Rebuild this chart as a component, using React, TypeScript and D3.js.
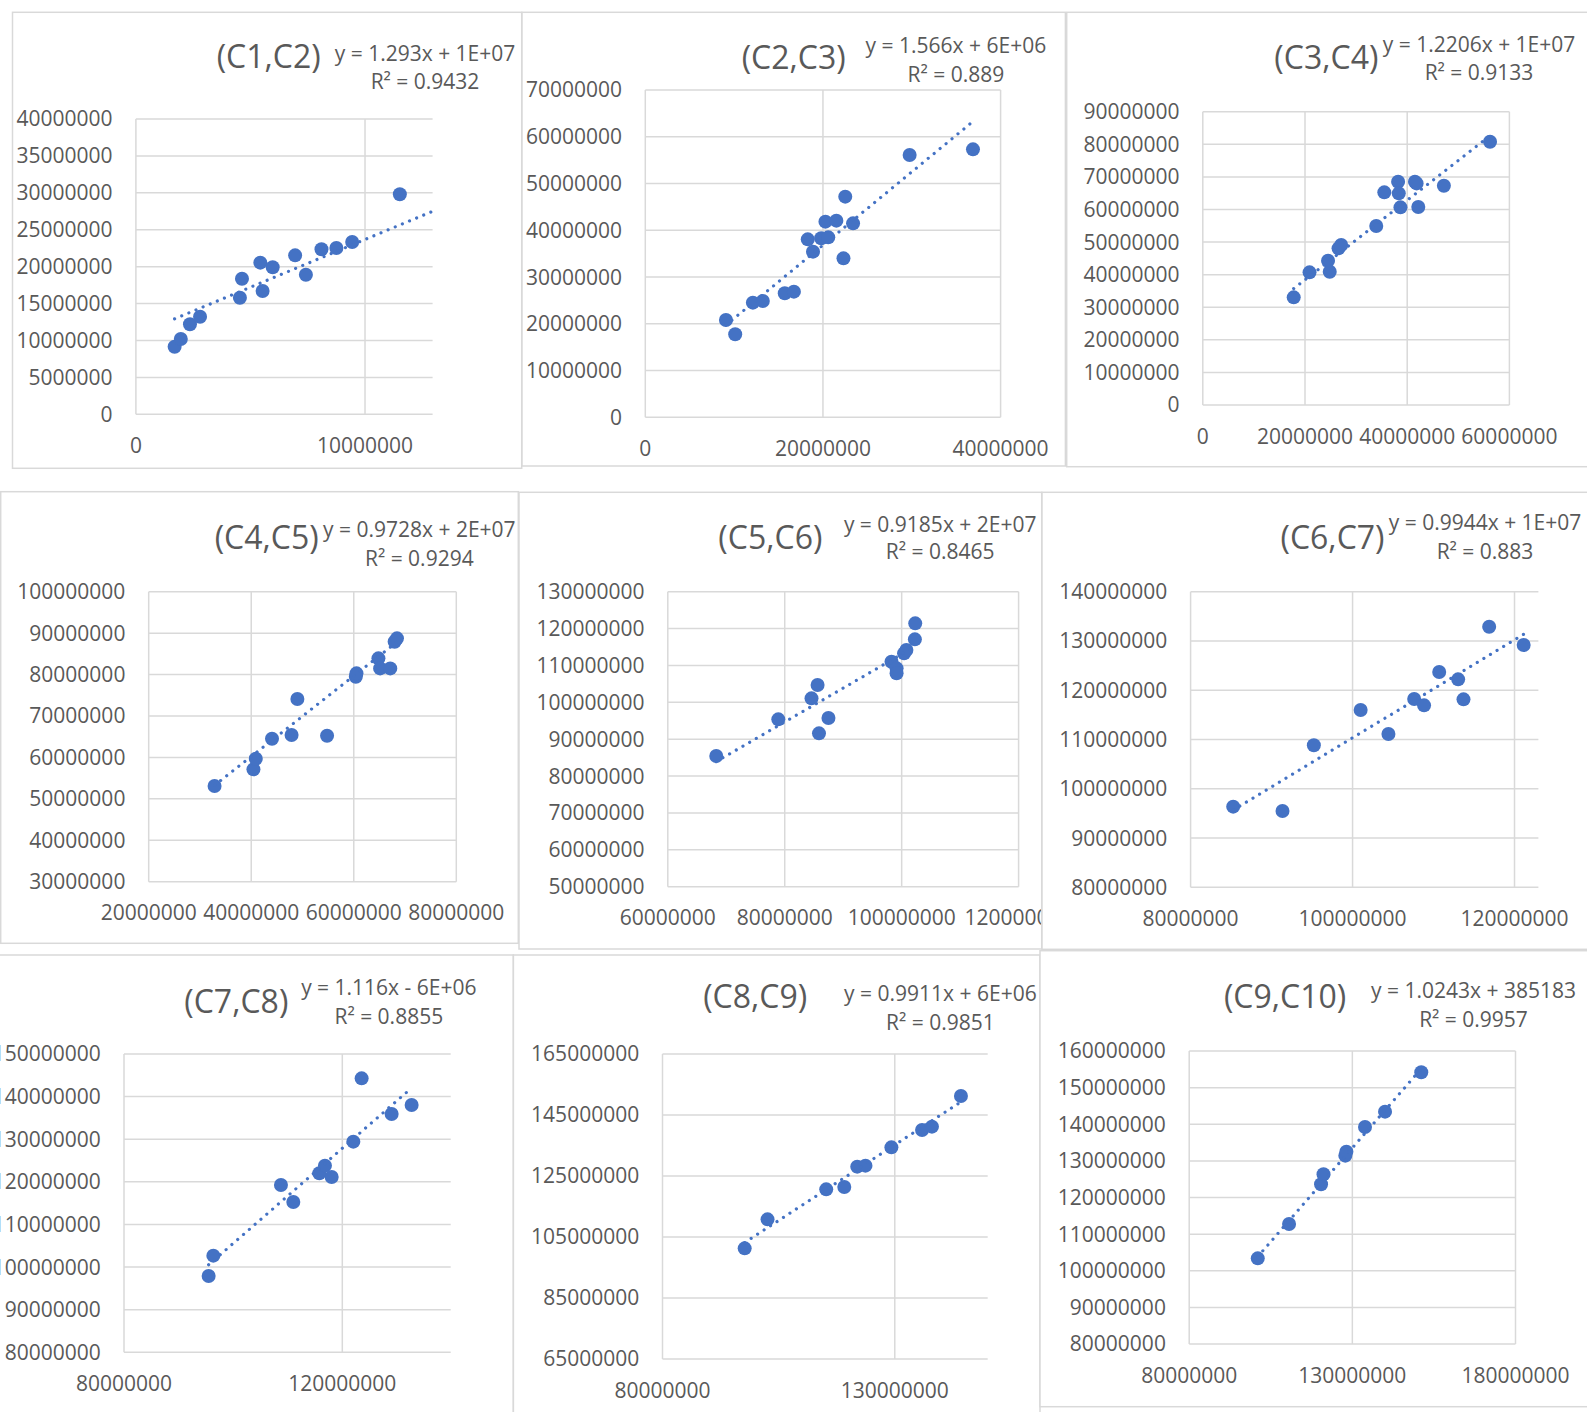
import React from 'react';
import * as d3 from 'd3';

// ---------- DATA ----------
const c1c2: [number, number][] = [
  [1690000, 9160000], [1960000, 10200000], [2360000, 12190000], [2800000, 13220000],
  [4540000, 15790000], [4630000, 18370000], [5430000, 20540000], [5530000, 16700000],
  [5970000, 19910000], [6950000, 21530000], [7420000, 18910000], [8100000, 22350000],
  [8750000, 22520000], [9440000, 23340000], [11520000, 29800000],
];
const c2c3: [number, number][] = [
  [9080000, 20810000], [10120000, 17750000], [12110000, 24520000], [13230000, 24880000],
  [15700000, 26520000], [16730000, 26870000], [18290000, 38060000], [18880000, 35430000],
  [19800000, 38280000], [20600000, 38490000], [20280000, 41840000], [21510000, 42060000],
  [22310000, 34000000], [22510000, 47190000], [23390000, 41480000], [29760000, 56100000],
  [36890000, 57310000],
];
const c3c4: [number, number][] = [
  [17790000, 33030000], [20890000, 40700000], [24510000, 44280000], [24840000, 40910000],
  [26560000, 48070000], [27080000, 49090000], [33940000, 54920000], [35520000, 65250000],
  [38220000, 68520000], [38350000, 64940000], [38680000, 60650000], [41520000, 68520000],
  [41840000, 68000000], [42170000, 60750000], [47180000, 67290000], [56210000, 80790000],
];
const c4c5: [number, number][] = [
  [32850000, 53090000], [40430000, 57120000], [40890000, 59690000], [44050000, 64520000],
  [47870000, 65400000], [49000000, 74090000], [54790000, 65240000], [60400000, 79480000],
  [60530000, 80290000], [64810000, 83910000], [65140000, 81490000], [67120000, 81490000],
  [67970000, 87930000], [68430000, 88740000],
];
const c5c6: [number, number][] = [
  [68290000, 85440000], [78900000, 95380000], [84580000, 101080000], [85620000, 104690000],
  [85860000, 91580000], [87480000, 95740000], [98260000, 111020000], [99130000, 109210000],
  [99130000, 107860000], [100410000, 113280000], [100810000, 114180000], [102260000, 117080000],
  [102320000, 121420000],
];
const c6c7: [number, number][] = [
  [85260000, 96370000], [91350000, 95490000], [95220000, 108820000], [101000000, 115990000],
  [104430000, 111120000], [107610000, 118220000], [108830000, 116930000], [110700000, 123700000],
  [113040000, 122210000], [113700000, 118150000], [116870000, 132900000], [121130000, 129180000],
];
const c7c8: [number, number][] = [
  [95510000, 97910000], [96370000, 102680000], [108760000, 119260000], [111020000, 115270000],
  [115790000, 122000000], [116820000, 123800000], [118050000, 121140000], [122020000, 129430000],
  [123540000, 144290000], [129040000, 135920000], [132700000, 138030000],
];
const c8c9: [number, number][] = [
  [97690000, 101280000], [102610000, 110790000], [115240000, 120630000], [119130000, 121390000],
  [121920000, 128060000], [123690000, 128390000], [129270000, 134400000], [135870000, 140080000],
  [138000000, 141180000], [144240000, 151230000],
];
const c9c10: [number, number][] = [
  [101010000, 103390000], [110600000, 112760000], [120410000, 123600000], [121160000, 126330000],
  [127850000, 131420000], [128170000, 132510000], [133880000, 139250000], [140020000, 143440000],
  [151120000, 154180000],
];

const series = [c1c2, c2c3, c3c4, c4c5, c5c6, c6c7, c7c8, c8c9, c9c10];
const titles = ['(C1,C2)', '(C2,C3)', '(C3,C4)', '(C4,C5)', '(C5,C6)', '(C6,C7)', '(C7,C8)', '(C8,C9)', '(C9,C10)'];
const equations = [
  'y = 1.293x + 1E+07', 'y = 1.566x + 6E+06', 'y = 1.2206x + 1E+07',
  'y = 0.9728x + 2E+07', 'y = 0.9185x + 2E+07', 'y = 0.9944x + 1E+07',
  'y = 1.116x - 6E+06', 'y = 0.9911x + 6E+06', 'y = 1.0243x + 385183',
];
const rSquared = ['0.9432', '0.889', '0.9133', '0.9294', '0.8465', '0.883', '0.8855', '0.9851', '0.9957'];
// trendline coefficients: slopes from the equations, intercepts
const trendSlopes = [1.293, 1.566, 1.2206, 0.9728, 0.9185, 0.9944, 1.116, 0.9911, 1.0243];
const trendIntercepts = [10750000, 5500000, 14000000, 21300000, 21200000, 10900000, -6060000, 6350000, 385183];
const trendToEdge = [true, false, false, false, false, false, false, false, false];
const xDomains: [number, number][] = [
  [0, 12950000], [0, 40000000], [0, 60000000], [20000000, 80000000], [60000000, 120000000],
  [80000000, 122950000], [80000000, 139860000], [80000000, 150000000], [80000000, 180000000],
];
const xSteps = [10000000, 20000000, 20000000, 20000000, 20000000, 20000000, 40000000, 50000000, 50000000];
const yDomains: [number, number][] = [
  [0, 40000000], [0, 70000000], [0, 90000000], [30000000, 100000000], [50000000, 130000000],
  [80000000, 140000000], [80000000, 150000000], [65000000, 165000000], [80000000, 160000000],
];
const ySteps = [5000000, 10000000, 10000000, 10000000, 10000000, 10000000, 10000000, 20000000, 10000000];

// ---------- LAYOUT ----------
type Layout = {
  frame: [number, number, number, number];
  plot: [number, number, number, number];
  title: [number, number];
  eq: [number, number, number];
};
const layouts: Layout[] = [
  { frame: [12.5, 12.3, 521.7, 468.3], plot: [135.9, 119, 432.6, 414.3], title: [268.7, 68.3], eq: [425, 60.7, 89.3] },
  { frame: [522, 12.3, 1065.4, 466], plot: [645.3, 90, 1000.6, 417.3], title: [793.7, 69.3], eq: [955.9, 53.3, 81.7] },
  { frame: [1066.7, 12.3, 1600, 466.7], plot: [1202.8, 111.7, 1509.4, 405], title: [1326.4, 69], eq: [1479, 51.7, 80] },
  { frame: [0.7, 491.7, 518.3, 943.3], plot: [148.7, 591.7, 456.3, 881.7], title: [266.7, 549], eq: [419.3, 537.3, 566] },
  { frame: [519, 492.3, 1041.7, 949], plot: [667.8, 591.7, 1018.6, 886.7], title: [770.4, 549], eq: [940.2, 531.7, 559] },
  { frame: [1042, 492.3, 1600, 949.3], plot: [1190.6, 591.7, 1538.4, 887.3], title: [1332.5, 549], eq: [1485, 530, 559] },
  { frame: [-2, 955, 513.3, 1420], plot: [124, 1054, 450.7, 1352.3], title: [236.3, 1013.3], eq: [388.8, 995, 1024.3] },
  { frame: [513.4, 955, 1040, 1420], plot: [662.5, 1054, 987.7, 1359], title: [755.2, 1008.3], eq: [940.4, 1001, 1030] },
  { frame: [1040, 950.7, 1600, 1406.7], plot: [1189.2, 1051, 1515.5, 1344], title: [1285.1, 1008.3], eq: [1473.5, 997.7, 1026.7] },
];

const FONT = "'Open Sans', sans-serif";
const TEXT = '#595959';
const GRID = '#d9d9d9';
const BLUE = '#4472C4';

function Panel({ i }: { i: number }) {
  const L = layouts[i];
  const pts = series[i];
  const [fx0, fy0, fx1, fy1] = L.frame;
  const [pl, pt, pr, pb] = L.plot;
  const x = d3.scaleLinear().domain(xDomains[i]).range([pl, pr]);
  const y = d3.scaleLinear().domain(yDomains[i]).range([pb, pt]);
  const xt = d3.range(xDomains[i][0], xDomains[i][1] + 1, xSteps[i]);
  const yt = d3.range(yDomains[i][0], yDomains[i][1] + 1, ySteps[i]);
  const slope = trendSlopes[i];
  const intercept = trendIntercepts[i];
  const ext = d3.extent(pts, (p) => p[0]) as [number, number];
  const tx1 = trendToEdge[i] ? xDomains[i][1] : ext[1];
  const line = d3.line<number>().x((v) => x(v)).y((v) => y(slope * v + intercept));
  const clipId = `clip-${i}`;
  return (
    <g>
      <defs>
        <clipPath id={clipId}>
          <rect x={fx0} y={fy0} width={fx1 - fx0} height={fy1 - fy0} />
        </clipPath>
      </defs>
      <rect x={fx0} y={fy0} width={fx1 - fx0} height={fy1 - fy0} fill="#fff" />
      <g clipPath={`url(#${clipId})`}>
        {yt.map((v) => (
          <line key={`gy${v}`} x1={pl} x2={pr} y1={y(v)} y2={y(v)} stroke={GRID} strokeWidth={1.5} />
        ))}
        {xt.map((v) => (
          <line key={`gx${v}`} x1={x(v)} x2={x(v)} y1={pt} y2={pb} stroke={GRID} strokeWidth={1.5} />
        ))}
        {yt.map((v) => (
          <text key={`ly${v}`} x={pl - 23.3} y={y(v)} dy="0.357em" textAnchor="end"
            fontFamily={FONT} fontSize={21} fill={TEXT}>{d3.format('d')(v)}</text>
        ))}
        {xt.map((v) => (
          <text key={`lx${v}`} x={x(v)} y={pb + 38.7} textAnchor="middle"
            fontFamily={FONT} fontSize={21} fill={TEXT}>{d3.format('d')(v)}</text>
        ))}
        {pts.map((p, k) => (
          <circle key={k} cx={x(p[0])} cy={y(p[1])} r={7} fill={BLUE} />
        ))}
        <path d={line([ext[0], tx1]) || ''} fill="none" stroke={BLUE} strokeWidth={3.2}
          strokeDasharray="0.01 7.7" strokeLinecap="round" />
        <text x={L.title[0]} y={L.title[1]} textAnchor="middle" fontFamily={FONT} fontSize={32} fill={TEXT}>
          {titles[i]}
        </text>
        <text x={L.eq[0]} y={L.eq[1]} textAnchor="middle" fontFamily={FONT} fontSize={21} fill={TEXT}>
          {equations[i]}
        </text>
        <text x={L.eq[0]} y={L.eq[2]} textAnchor="middle" fontFamily={FONT} fontSize={21} fill={TEXT}>
          {`R² = ${rSquared[i]}`}
        </text>
      </g>
      <rect x={fx0} y={fy0} width={fx1 - fx0} height={fy1 - fy0} fill="none" stroke={GRID} strokeWidth={1.5} />
    </g>
  );
}

export default function App() {
  return (
    <svg width={1587} height={1412} style={{ position: 'absolute', left: 0, top: 0, background: '#fff' }}>
      <rect x={0} y={0} width={1587} height={1412} fill="#fff" />
      {series.map((_, i) => <Panel key={i} i={i} />)}
    </svg>
  );
}
